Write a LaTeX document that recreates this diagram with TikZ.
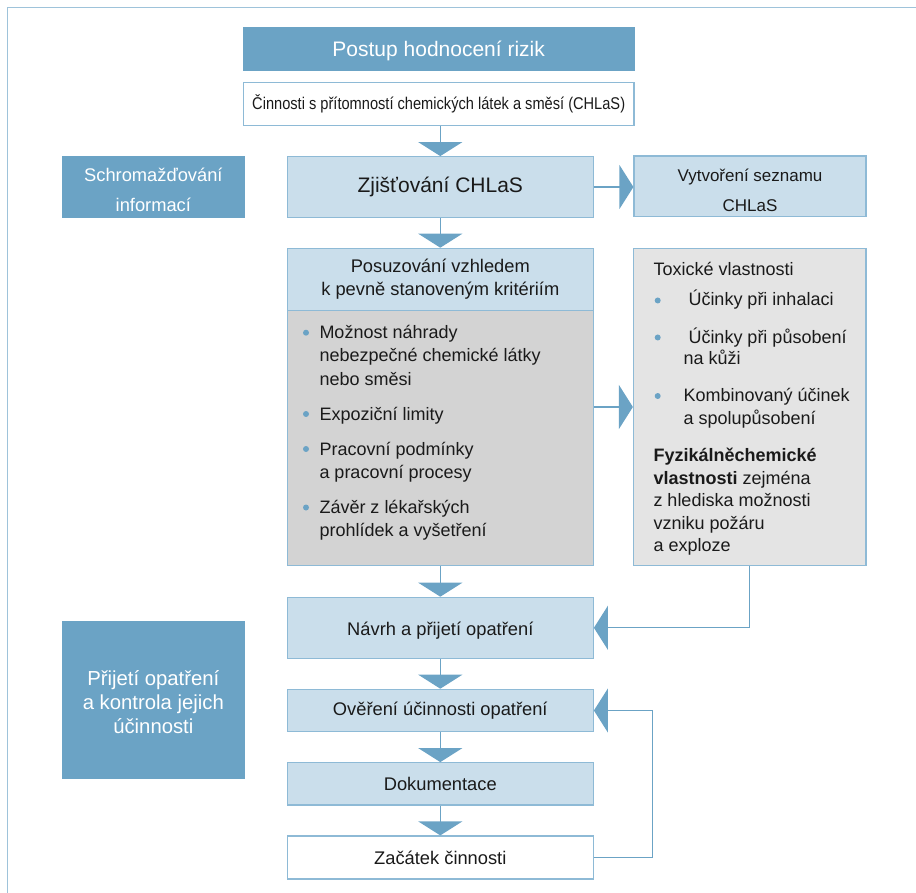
\documentclass[tikz,border=0pt]{standalone}
\usepackage{fontspec}
\setmainfont{Liberation Sans}
\newfontfamily\narrowfont[FakeStretch=0.86]{Liberation Sans}
\usetikzlibrary{arrows.meta}
\definecolor{midblue}{HTML}{6BA3C5}
\definecolor{lightfill}{HTML}{CADEEB}
\definecolor{bordercol}{HTML}{8EBAD6}
\definecolor{framecol}{HTML}{9EC3DA}
\definecolor{grayfill}{HTML}{D3D3D3}
\definecolor{lgrayfill}{HTML}{E4E4E4}
\definecolor{txt}{HTML}{1A1A1A}
\tikzset{
  box/.style={draw=bordercol, line width=1.2pt, inner sep=0pt, align=center, text=txt},
  darkbox/.style={fill=midblue, draw=midblue, line width=0.5pt, inner sep=0pt, align=center, text=white},
  lbl/.style={inner sep=0pt, align=center},
  flow/.style={draw=midblue, line width=1.3pt, -{Triangle[width=44pt,length=14pt]}},
  ln/.style={anchor=base west, inner sep=0pt, text=txt, font=\fontsize{18}{22}\selectfont},
  dotb/.style={fill=midblue},
}
\begin{document}
\begin{tikzpicture}[x=1pt,y=-1pt]
\useasboundingbox (0,0) rectangle (916,893);
% outer frame
\draw[framecol, line width=1.6pt] (7.5,893) -- (7.5,7.5) -- (916,7.5);

% boxes
\node[darkbox, minimum width=390.7pt, minimum height=43.4pt] (title) at (438.7,49) {};
\node[lbl, text=white, font=\fontsize{21}{25}\selectfont] (titlet) at ([yshift=-2pt]title.center) {Postup hodnocení rizik};
\node[box, fill=white, minimum width=390.7pt, minimum height=43pt, font=\narrowfont\fontsize{17}{20}\selectfont] (chin) at (438.7,104.2) {Činnosti s přítomností chemických látek a směsí (CHLaS)};
\node[darkbox, minimum width=181.3pt, minimum height=61.3pt] (schrom) at (153.35,186.65) {};
\node[lbl, text=white, font=\fontsize{18.3}{30}\selectfont] (schromt) at ([yshift=-3pt]schrom.center) {Schromažďování\\informací};
\node[box, fill=lightfill, minimum width=306pt, minimum height=60.6pt, font=\fontsize{21}{25}\selectfont] (zjis) at (440.3,187) {Zjišťování CHLaS};
\node[box, fill=lightfill, minimum width=232pt, minimum height=60.7pt] (vytv) at (750,186.35) {};
\node[lbl, text=txt, font=\fontsize{17}{30}\selectfont] (vytvt) at ([yshift=-3.5pt]vytv.center) {Vytvoření seznamu\\CHLaS};
\node[box, fill=lightfill, minimum width=306pt, minimum height=62.4pt, font=\fontsize{18.3}{23.3}\selectfont] (posh) at (440.3,279.5) {Posuzování vzhledem\\k pevně stanoveným kritériím};
\node[box, fill=grayfill, minimum width=306pt, minimum height=255pt] (posb) at (440.3,438.2) {};
\node[box, fill=lgrayfill, minimum width=232.5pt, minimum height=317.4pt] (tox) at (749.75,407) {};
\node[box, fill=lightfill, minimum width=306pt, minimum height=61pt, font=\fontsize{18.3}{22}\selectfont] (navrh) at (440.3,627.8) {};
\node[lbl, text=txt, font=\fontsize{18.3}{22}\selectfont] (navrht) at ([yshift=-2.5pt]navrh.center) {Návrh a přijetí opatření};
\node[box, fill=lightfill, minimum width=306pt, minimum height=42.4pt, font=\fontsize{18.3}{22}\selectfont] (over) at (440.3,710.5) {Ověření účinnosti opatření};
\node[box, fill=lightfill, minimum width=306pt, minimum height=42.3pt, font=\fontsize{18.3}{22}\selectfont] (dok) at (440.3,783.85) {Dokumentace};
\node[box, fill=white, minimum width=306pt, minimum height=43pt, font=\fontsize{18.3}{22}\selectfont] (zac) at (440.3,857.5) {Začátek činnosti};
\node[darkbox, minimum width=181.3pt, minimum height=157pt] (prij) at (153.35,699.5) {};
\node[lbl, text=white, font=\fontsize{20.3}{24}\selectfont] (prijt) at ([yshift=-2.5pt]prij.center) {Přijetí opatření\\a kontrola jejich\\účinnosti};

% gray box contents
\fill[dotb] (306,332.7) circle (3);
\fill[dotb] (306,414) circle (3);
\fill[dotb] (306,449) circle (3);
\fill[dotb] (306,507.5) circle (3);
\node[ln] (g1) at (319.3,338.7) {Možnost náhrady};
\node[ln] (g2) at (319.3,362) {nebezpečné chemické látky};
\node[ln] (g3) at (319.3,385.3) {nebo směsi};
\node[ln] (g4) at (319.3,420) {Expoziční limity};
\node[ln] (g5) at (319.3,455) {Pracovní podmínky};
\node[ln] (g6) at (319.3,478.5) {a pracovní procesy};
\node[ln] (g7) at (319.3,513) {Závěr z lékařských};
\node[ln] (g8) at (319.3,536.5) {prohlídek a vyšetření};

% toxic box contents
\fill[dotb] (657.7,300.5) circle (3);
\fill[dotb] (657.7,337.5) circle (3);
\fill[dotb] (657.7,396) circle (3);
\node[ln] (t1) at (653.3,276) {Toxické vlastnosti};
\node[ln] (t2) at (688.3,305.7) {Účinky při inhalaci};
\node[ln] (t3) at (688.3,343.3) {Účinky při působení};
\node[ln] (t4) at (683.3,365) {na kůži};
\node[ln] (t5) at (683.3,401.7) {Kombinovaný účinek};
\node[ln] (t6) at (683.3,424.3) {a spolupůsobení};
\node[ln] (t7) at (653.3,461.7) {\textbf{Fyzikálněchemické}};
\node[ln] (t8) at (653.3,484) {\textbf{vlastnosti} zejména};
\node[ln] (t9) at (653.3,506.7) {z hlediska možnosti};
\node[ln] (t10) at (653.3,529) {vzniku požáru};
\node[ln] (t11) at (653.3,551) {a exploze};

% connectors
\coordinate (fb) at (652.7,0);
\draw[flow] (chin.south -| zjis.north) -- (zjis.north);
\draw[flow] (zjis.east) -- (zjis.east -| vytv.west);
\draw[flow] (zjis.south) -- (posh.north);
\draw[flow] (posb.east |- tox.west) -- (tox.west);
\draw[flow] (posb.south) -- (navrh.north);
\draw[flow] (tox.south) -- (tox.south |- navrh.east) -- (navrh.east);
\draw[flow] (navrh.south) -- (over.north);
\draw[flow] (over.south) -- (dok.north);
\draw[flow] (dok.south) -- (zac.north);
\draw[flow] (zac.east) -- (zac.east -| fb) |- (over.east);
\end{tikzpicture}
\end{document}
